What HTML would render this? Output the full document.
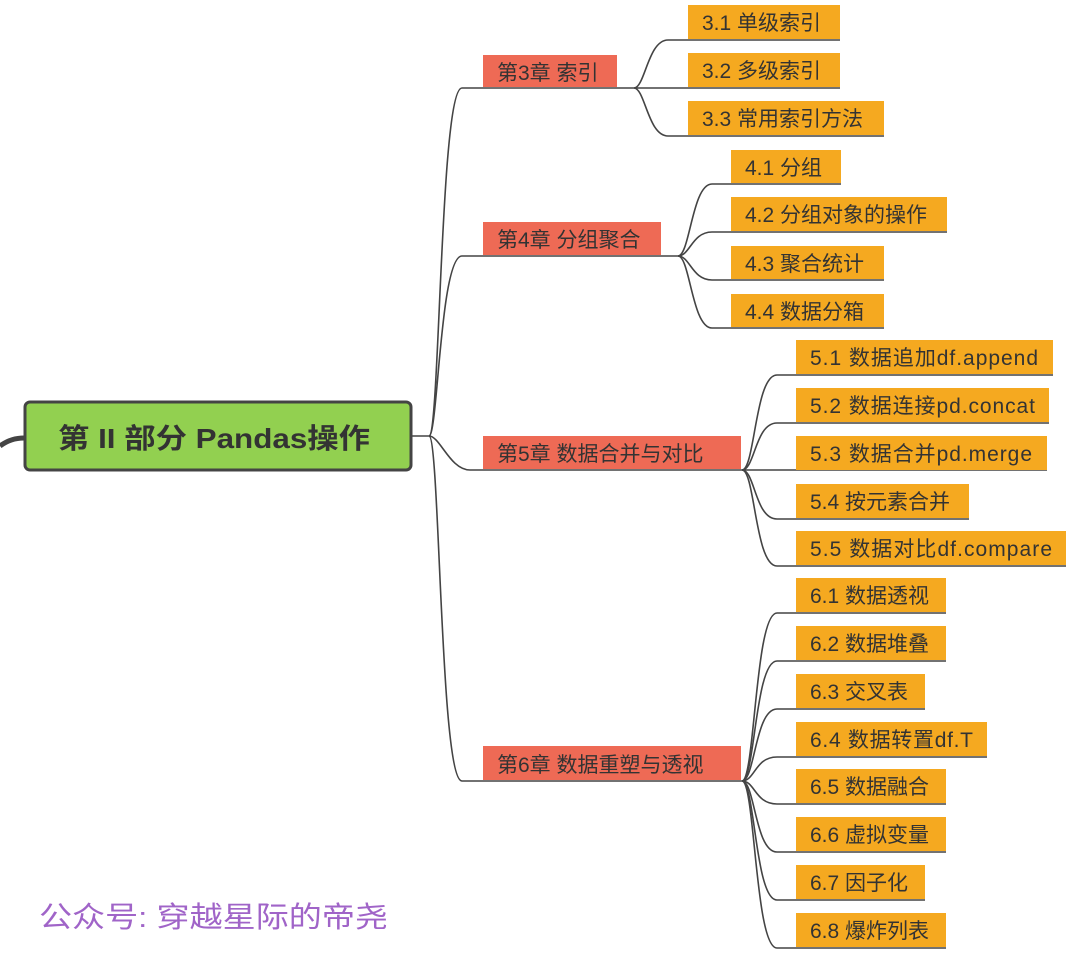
<!DOCTYPE html>
<html><head><meta charset="utf-8"><style>
html,body{margin:0;padding:0;background:#fff;width:1080px;height:965px;overflow:hidden}
svg{display:block}
text{font-family:"Liberation Sans","Noto Sans CJK SC",sans-serif;fill:#333}
</style></head><body>
<svg width="1080" height="965" viewBox="0 0 1080 965" xmlns="http://www.w3.org/2000/svg">
<g fill="none" stroke="#444" stroke-width="1.6">
<path d="M0 446 C8 440 16 438 24 438" stroke-width="5"/>
<line x1="412" y1="436" x2="429" y2="436"/>
<path d="M429 436 C440 436 440 88 462 88 L617 88"/>
<path d="M429 436 C438 436 440 256 462 256 L661 256"/>
<path d="M429 436 C440 436 450 470 470 470 L742 470"/>
<path d="M429 436 C440 436 440 781 462 781 L742 781"/>
<path d="M617 88 L634 88"/>
<path d="M661 256 L678 256"/>
<path d="M634 88 C645 88 648 40 668 40 L840 40"/>
<path d="M634 88 L840 88"/>
<path d="M634 88 C645 88 648 136 668 136 L884 136"/>
<path d="M678 256 C690 256 692 184 712 184 L841 184"/>
<path d="M678 256 C690 256 692 232 712 232 L947 232"/>
<path d="M678 256 C690 256 692 280 712 280 L884 280"/>
<path d="M678 256 C690 256 692 328 712 328 L884 328"/>
<path d="M742 470 C755 470 755 375 777 375 L1053 375"/>
<path d="M742 470 C755 470 755 423 777 423 L1049 423"/>
<path d="M742 470 L1047 470"/>
<path d="M742 470 C755 470 755 519 777 519 L969 519"/>
<path d="M742 470 C755 470 755 566 777 566 L1066 566"/>
<path d="M742 781 C755 781 755 613 777 613 L946 613"/>
<path d="M742 781 C755 781 755 661 777 661 L946 661"/>
<path d="M742 781 C755 781 755 709 777 709 L925 709"/>
<path d="M742 781 C755 781 755 757 777 757 L987 757"/>
<path d="M742 781 C755 781 755 804 777 804 L946 804"/>
<path d="M742 781 C755 781 755 852 777 852 L946 852"/>
<path d="M742 781 C755 781 755 900 777 900 L925 900"/>
<path d="M742 781 C755 781 755 948 777 948 L946 948"/>
</g>
<rect x="25" y="402" width="386" height="68" rx="5" fill="#92d050" stroke="#444" stroke-width="3"/>
<text x="58" y="448" font-size="28" font-weight="bold" textLength="312" lengthAdjust="spacingAndGlyphs">第 II 部分 Pandas操作</text>
<g fill="#ee6a55">
<rect x="483" y="55" width="134" height="32"/>
<rect x="483" y="222" width="178" height="33"/>
<rect x="483" y="436" width="258" height="33"/>
<rect x="483" y="746" width="258" height="34"/>
</g>
<g font-size="21">
<text x="497" y="80">第3章 索引</text>
<text x="497" y="247">第4章 分组聚合</text>
<text x="497" y="461">第5章 数据合并与对比</text>
<text x="497" y="772">第6章 数据重塑与透视</text>
</g>
<g fill="#f5a920">
<rect x="688" y="5" width="152" height="34"/>
<rect x="688" y="53" width="152" height="34"/>
<rect x="688" y="101" width="196" height="34"/>
<rect x="731" y="150" width="110" height="33"/>
<rect x="731" y="197" width="216" height="34"/>
<rect x="731" y="246" width="153" height="33"/>
<rect x="731" y="294" width="153" height="33"/>
<rect x="796" y="340" width="257" height="34"/>
<rect x="796" y="388" width="253" height="34"/>
<rect x="796" y="436" width="251" height="34"/>
<rect x="796" y="484" width="173" height="34"/>
<rect x="796" y="531" width="270" height="34"/>
<rect x="796" y="578" width="150" height="34"/>
<rect x="796" y="626" width="150" height="34"/>
<rect x="796" y="674" width="129" height="34"/>
<rect x="796" y="722" width="191" height="34"/>
<rect x="796" y="769" width="150" height="34"/>
<rect x="796" y="817" width="150" height="34"/>
<rect x="796" y="865" width="129" height="34"/>
<rect x="796" y="913" width="150" height="34"/>
</g>
<g font-size="21">
<text x="702" y="30">3.1 单级索引</text>
<text x="702" y="78">3.2 多级索引</text>
<text x="702" y="126">3.3 常用索引方法</text>
<text x="745" y="175">4.1 分组</text>
<text x="745" y="222">4.2 分组对象的操作</text>
<text x="745" y="271">4.3 聚合统计</text>
<text x="745" y="319">4.4 数据分箱</text>
<text x="810" y="365" textLength="228">5.1 数据追加df.append</text>
<text x="810" y="413" textLength="225">5.2 数据连接pd.concat</text>
<text x="810" y="461" textLength="222">5.3 数据合并pd.merge</text>
<text x="810" y="509">5.4 按元素合并</text>
<text x="810" y="556" textLength="242">5.5 数据对比df.compare</text>
<text x="810" y="603">6.1 数据透视</text>
<text x="810" y="651">6.2 数据堆叠</text>
<text x="810" y="699">6.3 交叉表</text>
<text x="810" y="747" textLength="163">6.4 数据转置df.T</text>
<text x="810" y="794">6.5 数据融合</text>
<text x="810" y="842">6.6 虚拟变量</text>
<text x="810" y="890">6.7 因子化</text>
<text x="810" y="938">6.8 爆炸列表</text>
</g>
<text x="39" y="927" font-size="29" textLength="349" lengthAdjust="spacingAndGlyphs" style="fill:#a064c8">公众号: 穿越星际的帝尧</text>
</svg>
</body></html>
